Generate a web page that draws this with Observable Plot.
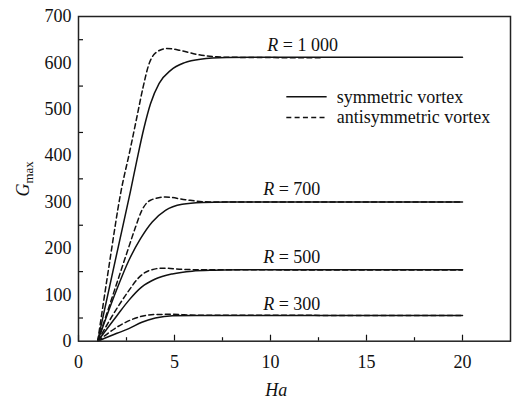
<!DOCTYPE html>
<html>
<head>
<meta charset="utf-8">
<script src="https://cdn.jsdelivr.net/npm/d3@7"></script>
<script src="https://cdn.jsdelivr.net/npm/@observablehq/plot@0.6"></script>
<style>
  body { margin: 0; background: #fff; }
  #chart svg, #chart svg text { font-family: "Liberation Serif", "Times New Roman", serif; }
</style>
</head>
<body>
<div id="chart"></div>
<script>
// Maximum growth rate G_max versus Hartmann number Ha for four Reynolds numbers.
// Solid: symmetric vortex; dashed: antisymmetric vortex.

const reynolds = [1000, 700, 500, 300];

const haSym1000 = [1, 2, 2.7, 3.05, 3.4, 3.75, 4.2, 4.8, 5.5, 6.35, 7.7, 9, 20];
const gSym1000  = [0, 190, 322, 392, 458, 512, 556, 584, 600, 608, 611.5, 612, 612];
const haAnti1000 = [1, 1.6, 2.2, 2.7, 3.05, 3.35, 3.66, 4.0, 4.6, 5.3, 6.2, 7.2, 8, 12.7];
const gAnti1000  = [0, 165, 320, 415, 485, 545, 596, 621, 631, 627, 618, 613, 612, 611];

const haSym700 = [1, 1.93, 2.62, 3.23, 3.84, 4.53, 5.4, 6.44, 7.7, 20];
const gSym700  = [0, 105, 174, 221, 257, 282, 295, 299, 300, 300];
const haAnti700 = [1, 2.1, 2.62, 2.97, 3.3, 3.75, 4.53, 5.57, 6.6, 7.5, 20];
const gAnti700  = [0, 138, 203, 246, 282, 304, 311, 305, 300.5, 300, 300];

const haSym500 = [1, 2, 2.62, 3.3, 4.0, 4.88, 5.92, 7.1, 8.5, 20];
const gSym500  = [0, 55, 88, 117, 134, 145, 151, 153, 154, 154];
const haAnti500 = [1, 1.93, 2.62, 3.14, 3.66, 4.4, 5.4, 6.5, 20];
const gAnti500  = [0, 66, 109, 137, 152, 157.5, 155, 154, 153.5];

const haSym300 = [1, 2, 2.62, 3.3, 4.0, 4.9, 6.1, 20];
const gSym300  = [0, 17, 27, 41, 50, 55, 55.5, 55.5];
const haAnti300 = [1, 2.28, 3.14, 4.0, 4.9, 6.1, 20];
const gAnti300  = [0, 37, 52, 57.5, 58, 56, 55.5];

const xTicksMajor = [0, 5, 10, 15, 20];
const xTicksMinor = [2.5, 7.5, 12.5, 17.5];
const yTicksMajor = [0, 100, 200, 300, 400, 500, 600, 700];
const yTicksMinor = [50, 150, 250, 350, 450, 550, 650];

// Curve labels "R = …" placed just above each plateau
const curveLabels = [
  {R: "1 000", ha: 9.83, g: 638},
  {R: "700",   ha: 9.62, g: 327},
  {R: "500",   ha: 9.62, g: 181},
  {R: "300",   ha: 9.62, g: 79}
];

const legendItems = [
  {label: "symmetric vortex", dash: "none"},
  {label: "antisymmetric vortex", dash: "5,3.3"}
];
const legendPos = {x1: 10.85, x2: 12.95, xText: 13.45, yTop: 527, step: 45};

function toRows(R, type, ha, g) {
  return ha.map((h, i) => ({R, type, ha: h, g: g[i]}));
}

const symRows = [
  ...toRows(1000, "sym", haSym1000, gSym1000),
  ...toRows(700, "sym", haSym700, gSym700),
  ...toRows(500, "sym", haSym500, gSym500),
  ...toRows(300, "sym", haSym300, gSym300)
];
const antiRows = [
  ...toRows(1000, "anti", haAnti1000, gAnti1000),
  ...toRows(700, "anti", haAnti700, gAnti700),
  ...toRows(500, "anti", haAnti500, gAnti500),
  ...toRows(300, "anti", haAnti300, gAnti300)
];

const ink = "#111";

const chart = Plot.plot({
  width: 512,
  height: 399,
  marginLeft: 78,
  marginRight: 2,
  marginTop: 16,
  marginBottom: 58.3,
  style: {fontFamily: "Liberation Serif", fontSize: "18px", color: ink, background: "#fff"},
  x: {domain: [0, 22.5]},
  y: {domain: [0, 700]},
  marks: [
    // inward-pointing ticks
    Plot.axisX({ticks: xTicksMajor, tickSize: -6, tickPadding: 20, label: null, stroke: ink, strokeWidth: 1.2}),
    Plot.axisX({ticks: xTicksMinor, tickSize: -3.5, text: null, label: null, stroke: ink, strokeWidth: 1.2}),
    Plot.axisY({ticks: yTicksMajor, tickSize: 0, tickPadding: 7, label: null}),
    Plot.axisY({ticks: yTicksMinor, tickSize: -5, text: null, label: null, stroke: ink, strokeWidth: 1.2}),
    Plot.line(symRows, {x: "ha", y: "g", z: "R", stroke: ink, strokeWidth: 1.5, curve: "monotone-x"}),
    Plot.line(antiRows, {x: "ha", y: "g", z: "R", stroke: ink, strokeWidth: 1.5, strokeDasharray: "5,3.3", curve: "monotone-x"}),
    Plot.text(curveLabels, {x: "ha", y: "g", text: d => `R = ${d.R}`, textAnchor: "start", fill: ink}),
    ...legendItems.map((item, i) => Plot.ruleY([item], {
      y: () => legendPos.yTop - i * legendPos.step,
      x1: () => legendPos.x1, x2: () => legendPos.x2,
      stroke: ink, strokeWidth: 1.5, strokeDasharray: item.dash
    })),
    Plot.text(legendItems, {
      x: () => legendPos.xText,
      y: (d, i) => legendPos.yTop - i * legendPos.step,
      text: "label", textAnchor: "start", fill: ink
    }),
    Plot.text(["Ha"], {frameAnchor: "bottom", dy: 49, x: () => 10.3, text: d => d, fontStyle: "italic", textAnchor: "middle", lineAnchor: "middle", fill: ink}),
    Plot.text(["Gmax"], {frameAnchor: "left", dx: -55, rotate: -90, text: d => d, textAnchor: "middle", lineAnchor: "middle", fill: ink}),
    Plot.frame({stroke: "#222", strokeWidth: 1.5})
  ]
});

const svg = d3.select(chart);
svg.style("font-family", "'Liberation Serif', 'Times New Roman', serif");
// Italic variable names inside the labels
svg.selectAll("text").each(function () {
  const t = d3.select(this);
  const s = t.text();
  if (/^R = /.test(s)) {
    t.text(null);
    t.append("tspan").attr("font-style", "italic").text("R");
    t.append("tspan").text(s.slice(1));
  } else if (s === "Gmax") {
    t.text(null);
    t.append("tspan").attr("font-style", "italic").text("G");
    t.append("tspan").attr("font-size", "13px").attr("dy", "4").text("max");
  }
});

document.getElementById("chart").append(chart);
</script>
</body>
</html>
